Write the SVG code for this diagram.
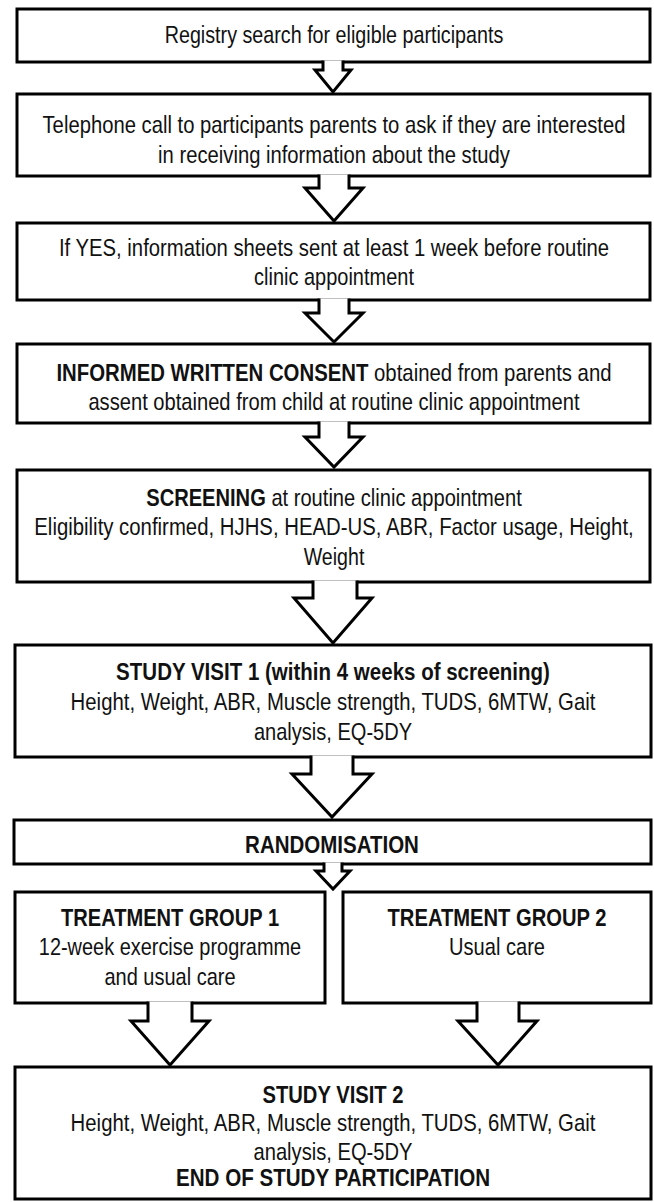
<svg xmlns="http://www.w3.org/2000/svg" width="654" height="1202" viewBox="0 0 654 1202">
<style>
.box{fill:#fff;stroke:#000;stroke-width:3}
.arr{fill:#fff;stroke:#000;stroke-width:3;stroke-linejoin:miter}
text{font-family:"Liberation Sans",Arial,sans-serif;font-size:24px;fill:#111;text-anchor:middle}
.b{font-weight:bold}
</style>
<rect width="654" height="1202" fill="#fff"/>
<g id="n1"><rect class="box" x="17" y="9" width="633" height="53"/>
<text transform="translate(334,43) scale(0.82,1)" textLength="413" lengthAdjust="spacingAndGlyphs">Registry search for eligible participants</text></g>
<g id="n2"><rect class="box" x="17" y="94" width="633" height="82"/>
<text transform="translate(334,133) scale(0.82,1)" textLength="711" lengthAdjust="spacingAndGlyphs">Telephone call to participants parents to ask if they are interested</text>
<text transform="translate(334,163) scale(0.82,1)" textLength="429" lengthAdjust="spacingAndGlyphs">in receiving information about the study</text></g>
<g id="n3"><rect class="box" x="17" y="223" width="633" height="77"/>
<text transform="translate(334,256) scale(0.82,1)" textLength="671" lengthAdjust="spacingAndGlyphs">If YES, information sheets sent at least 1 week before routine</text>
<text transform="translate(334,285) scale(0.82,1)" textLength="195" lengthAdjust="spacingAndGlyphs">clinic appointment</text></g>
<g id="n4"><rect class="box" x="17" y="344" width="633" height="79"/>
<text transform="translate(334,381) scale(0.82,1)" textLength="677" lengthAdjust="spacingAndGlyphs"><tspan class="b">INFORMED WRITTEN CONSENT</tspan> obtained from parents and</text>
<text transform="translate(334,410) scale(0.82,1)" textLength="599" lengthAdjust="spacingAndGlyphs">assent obtained from child at routine clinic appointment</text></g>
<g id="n5"><rect class="box" x="17" y="470" width="633" height="112"/>
<text transform="translate(334,506) scale(0.82,1)" textLength="458" lengthAdjust="spacingAndGlyphs"><tspan class="b">SCREENING</tspan> at routine clinic appointment</text>
<text transform="translate(334,535) scale(0.82,1)" textLength="731" lengthAdjust="spacingAndGlyphs">Eligibility confirmed, HJHS, HEAD-US, ABR, Factor usage, Height,</text>
<text transform="translate(334,565) scale(0.82,1)" textLength="74" lengthAdjust="spacingAndGlyphs">Weight</text></g>
<g id="n6"><rect class="box" x="15" y="645" width="636" height="112"/>
<text class="b" transform="translate(333,680) scale(0.82,1)" textLength="529" lengthAdjust="spacingAndGlyphs">STUDY VISIT 1 (within 4 weeks of screening)</text>
<text transform="translate(333,710) scale(0.82,1)" textLength="640" lengthAdjust="spacingAndGlyphs">Height, Weight, ABR, Muscle strength, TUDS, 6MTW, Gait</text>
<text transform="translate(333,740) scale(0.82,1)" textLength="193" lengthAdjust="spacingAndGlyphs">analysis, EQ-5DY</text></g>
<g id="n7"><rect class="box" x="14" y="820" width="637" height="44"/>
<text class="b" transform="translate(332,853) scale(0.82,1)" textLength="212" lengthAdjust="spacingAndGlyphs">RANDOMISATION</text></g>
<g id="n8"><rect class="box" x="15" y="892" width="310" height="111"/>
<text class="b" transform="translate(170,926) scale(0.82,1)" textLength="266" lengthAdjust="spacingAndGlyphs">TREATMENT GROUP 1</text>
<text transform="translate(170,955) scale(0.82,1)" textLength="320" lengthAdjust="spacingAndGlyphs">12-week exercise programme</text>
<text transform="translate(170,985) scale(0.82,1)" textLength="160" lengthAdjust="spacingAndGlyphs">and usual care</text></g>
<g id="n9"><rect class="box" x="343" y="892" width="308" height="111"/>
<text class="b" transform="translate(497,926) scale(0.82,1)" textLength="267" lengthAdjust="spacingAndGlyphs">TREATMENT GROUP 2</text>
<text transform="translate(497,955) scale(0.82,1)" textLength="117" lengthAdjust="spacingAndGlyphs">Usual care</text></g>
<g id="n10"><rect class="box" x="15" y="1067" width="636" height="132"/>
<text class="b" transform="translate(333,1103) scale(0.82,1)" textLength="172" lengthAdjust="spacingAndGlyphs">STUDY VISIT 2</text>
<text transform="translate(333,1131) scale(0.82,1)" textLength="640" lengthAdjust="spacingAndGlyphs">Height, Weight, ABR, Muscle strength, TUDS, 6MTW, Gait</text>
<text transform="translate(333,1160) scale(0.82,1)" textLength="194" lengthAdjust="spacingAndGlyphs">analysis, EQ-5DY</text>
<text class="b" transform="translate(333,1186) scale(0.82,1)" textLength="383" lengthAdjust="spacingAndGlyphs">END OF STUDY PARTICIPATION</text></g>
<g id="connectors">
<path class="arr" d="M323,60.5 V70 H315 L333,92 L351,70 H343 V60.5"/>
<path class="arr" d="M319,174.5 V188 H305 L334,221 L363,188 H349 V174.5"/>
<path class="arr" d="M319,298.5 V313 H305 L334,342 L363,313 H349 V298.5"/>
<path class="arr" d="M319,421.5 V437 H305 L334,467 L363,437 H349 V421.5"/>
<path class="arr" d="M313,580.5 V598 H294 L333,643 L372,598 H357 V580.5"/>
<path class="arr" d="M311,755.5 V774 H292 L332,817 L372,774 H353 V755.5"/>
<path class="arr" d="M324,862.5 V871 H316 L333,889 L350,871 H342 V862.5"/>
<path class="arr" d="M148,1001.5 V1021 H131 L170,1065 L209,1021 H192 V1001.5"/>
<path class="arr" d="M477,1001.5 V1021 H458 L498,1065 L537,1021 H519 V1001.5"/>
</g>
</svg>
